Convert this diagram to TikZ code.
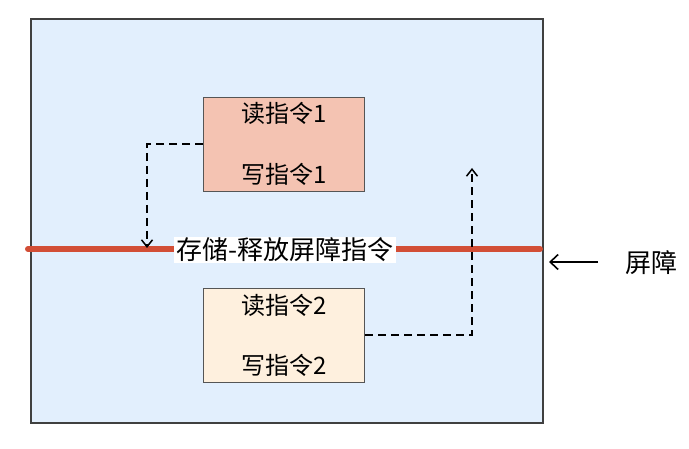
\documentclass[tikz,border=0pt]{standalone}
\usepackage{fontspec}
\newfontfamily\cjk{Noto Sans CJK SC}
\usetikzlibrary{arrows.meta}
\definecolor{bgblue}{HTML}{E2EFFD}
\definecolor{boxone}{HTML}{F4C3B2}
\definecolor{boxtwo}{HTML}{FEF0DE}
\definecolor{barred}{HTML}{D24E36}
\definecolor{edge}{HTML}{555555}
\tikzset{
  instbox/.style={draw=edge, line width=1.2pt, minimum width=161pt, minimum height=94pt, inner sep=0pt},
  insttext/.style={font=\cjk\fontsize{24}{28}\selectfont, inner sep=0pt},
  flow/.style={dash pattern=on 8pt off 5pt, line width=1.5pt, -{Straight Barb[length=7pt,width=11pt]}},
}
\begin{document}
\begin{tikzpicture}[x=1pt,y=-1pt]
\useasboundingbox (0,0) rectangle (689,449);
\node[draw=black!75, line width=1.8pt, fill=bgblue, minimum width=512pt, minimum height=404pt, inner sep=0pt, anchor=north west] (outer) at (30,18) {};
\node[instbox, fill=boxone, anchor=north west] (b1) at (203,97) {};
\node[insttext] (r1) at (284,113) {读指令1};
\node[insttext] (w1) at (284,174) {写指令1};
\node[instbox, fill=boxtwo, anchor=north west] (b2) at (203,288) {};
\node[insttext] (r2) at (284,305) {读指令2};
\node[insttext] (w2) at (284,365) {写指令2};
\coordinate (bl) at (28,249);
\coordinate (br) at (540,249);
\draw[barred, line width=6pt, line cap=round] (bl) -- (br);
\node[fill=white, font=\cjk\fontsize{26}{30}\selectfont, inner xsep=2pt, inner ysep=1pt] (bar) at (285,250) {存储-释放屏障指令};
\coordinate (c1) at (147,144);
\coordinate (e1) at (147,248);
\draw[flow] (b1.west |- c1) -- (c1) -- (e1);
\coordinate (c2) at (472,335);
\coordinate (e2) at (472,168);
\draw[flow] (b2.east |- c2) -- (c2) -- (e2);
\node[font=\cjk\fontsize{26}{30}\selectfont, inner sep=0pt] (lab) at (651,263) {屏障};
\coordinate (a1) at (598,262);
\coordinate (a2) at (549,262);
\draw[line width=1.6pt, -{Straight Barb[length=8pt,width=15pt]}] (a1) -- (a2);
\end{tikzpicture}
\end{document}
